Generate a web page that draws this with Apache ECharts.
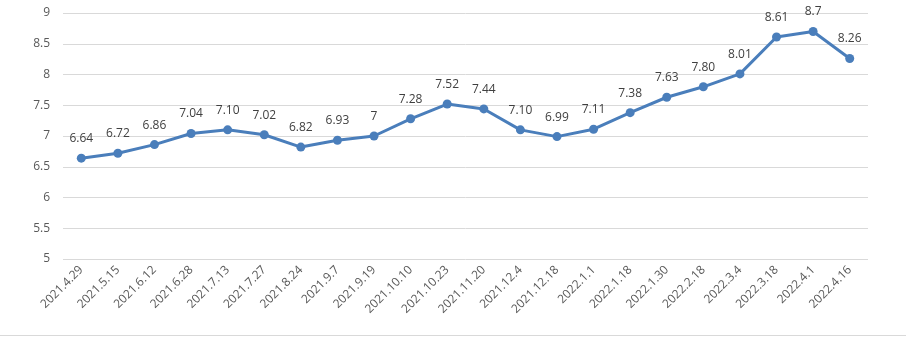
<!DOCTYPE html>
<html><head><meta charset="utf-8">
<script src="https://cdn.jsdelivr.net/npm/echarts@6/dist/echarts.min.js"></script>
<style>html,body{margin:0;padding:0;background:#fff;}#c{width:906px;height:337px;}</style>
</head><body><div id="c"></div>
<script>
var categories = ["2021.4.29","2021.5.15","2021.6.12","2021.6.28","2021.7.13","2021.7.27","2021.8.24","2021.9.7","2021.9.19","2021.10.10","2021.10.23","2021.11.20","2021.12.4","2021.12.18","2022.1.1","2022.1.18","2022.1.30","2022.2.18","2022.3.4","2022.3.18","2022.4.1","2022.4.16"];
var values = [6.64,6.72,6.86,7.04,7.10,7.02,6.82,6.93,7,7.28,7.52,7.44,7.10,6.99,7.11,7.38,7.63,7.80,8.01,8.61,8.7,8.26];
var valueLabels = ["6.64","6.72","6.86","7.04","7.10","7.02","6.82","6.93","7","7.28","7.52","7.44","7.10","6.99","7.11","7.38","7.63","7.80","8.01","8.61","8.7","8.26"];
var yTicks = [5,5.5,6,6.5,7,7.5,8,8.5,9];
var FONT = "Open Sans";
var chart = echarts.init(document.getElementById('c'), null, {renderer:'canvas'});
chart.setOption({
  animation:false,
  grid:{left:63,right:38,top:13,bottom:78,containLabel:false},
  xAxis:{type:'category',data:categories,boundaryGap:true,
    axisLine:{show:false},axisTick:{show:false},
    axisLabel:{rotate:45,interval:0,color:'#595959',fontSize:12,fontFamily:FONT,margin:9}},
  yAxis:{type:'value',min:5,max:9,interval:0.5,
    axisLine:{show:false},axisTick:{show:false},
    splitLine:{lineStyle:{color:'#d9d9d9',width:1}},
    axisLabel:{color:'#595959',fontSize:12,fontFamily:FONT,margin:13,
      formatter:function(v){return yTicks.indexOf(v)>=0?String(v):'';}}},
  series:[{type:'line',data:values,symbol:'circle',symbolSize:9,
    lineStyle:{color:'#4a7ebb',width:3},itemStyle:{color:'#4a7ebb'},
    label:{show:true,position:'top',distance:9,color:'#404040',fontSize:12,fontFamily:FONT,
      formatter:function(p){return valueLabels[p.dataIndex];}}}],
  graphic:[{type:'rect',shape:{x:0,y:335.5,width:906,height:0},style:{stroke:'#d9d9d9',lineWidth:1},silent:true}]
});
</script></body></html>
